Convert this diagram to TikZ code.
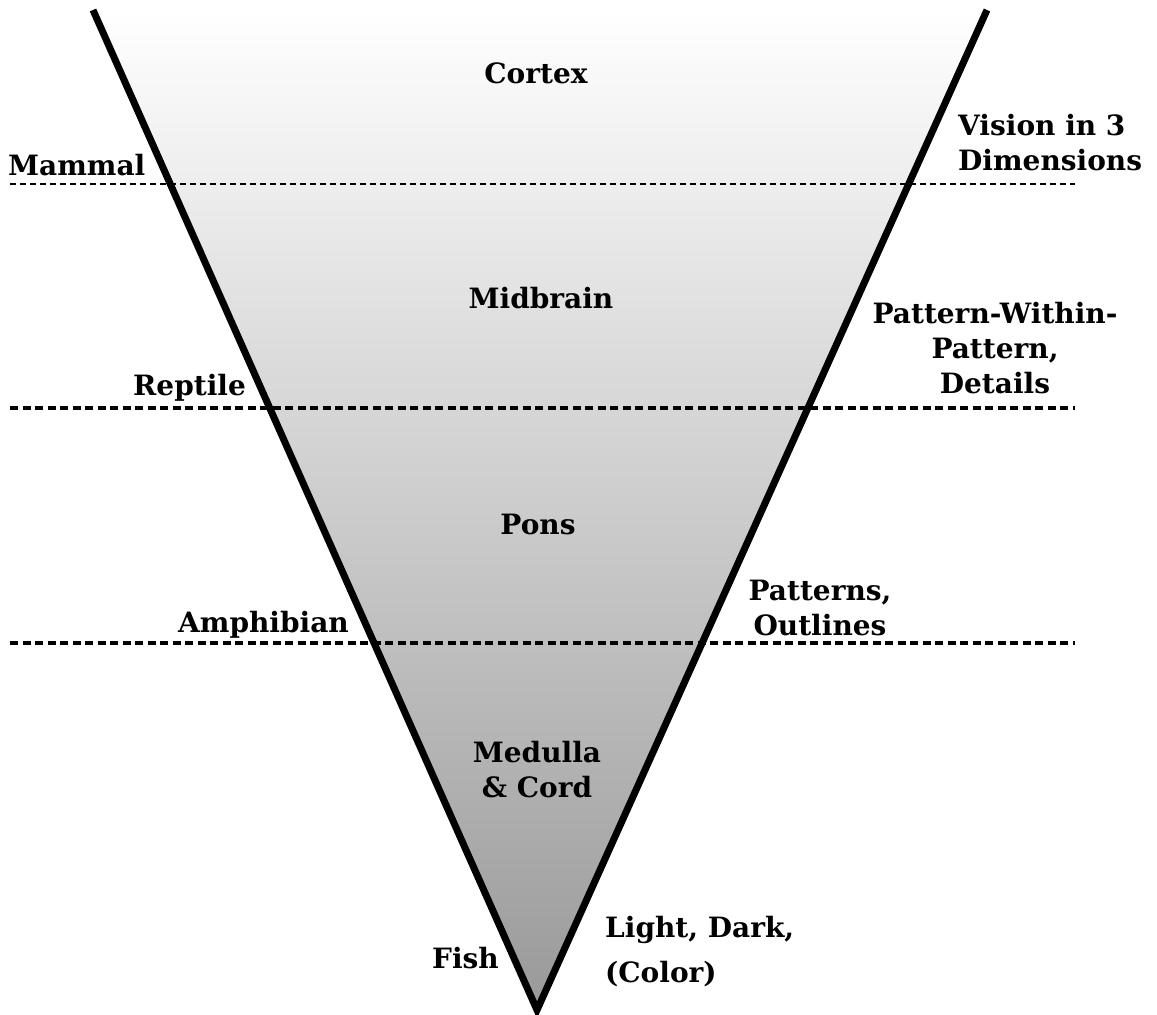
\documentclass[tikz,border=0pt]{standalone}
\usepackage{fontspec}
\setmainfont{DejaVu Serif}
\usepackage{tikz}
\usetikzlibrary{calc}

\tikzset{
    brainlabel/.style={inner sep=0pt, font=\bfseries\fontsize{28}{35}\selectfont},
    levelline/.style={line width=3.5pt, dash pattern=on 8pt off 4.5pt},
    toplevelline/.style={line width=1.6pt, dash pattern=on 6pt off 4pt},
}

\begin{document}
\begin{tikzpicture}[x=1pt, y=-1pt]
    \useasboundingbox (0,0) rectangle (1157,1015);

    % Corners of the funnel
    \coordinate (TL) at (93,10);
    \coordinate (TR) at (987,10);
    \coordinate (Apex) at (537,1010);

    % Shaded funnel body
    \shade[top color=white, bottom color=black!40] (TL) -- (TR) -- (Apex) -- cycle;

    % Evolutionary level lines
    \coordinate (mammalL) at (10,184);
    \coordinate (mammalR) at (1075,184);
    \coordinate (reptileL) at (10,408);
    \coordinate (reptileR) at (1075,408);
    \coordinate (amphibL) at (10,643);
    \coordinate (amphibR) at (1075,643);
    \draw[toplevelline] (mammalL) -- (mammalR);
    \draw[levelline] (reptileL) -- (reptileR);
    \draw[levelline] (amphibL) -- (amphibR);

    % Funnel sides
    \draw[line width=7pt, miter limit=20] (TL) -- (Apex) -- (TR);

    % Brain regions
    \node[brainlabel] (cortex) at (536,73) {Cortex};
    \node[brainlabel] (midbrain) at (541,298) {Midbrain};
    \node[brainlabel] (pons) at (538,524) {Pons};
    \node[brainlabel, anchor=north, align=center] (medulla) at (537,741) {Medulla\\\& Cord};

    % Animal classes
    \node[brainlabel, anchor=base west] (mammal) at (8,175) {Mammal};
    \node[brainlabel, anchor=base west] (reptile) at (133,395) {Reptile};
    \node[brainlabel, anchor=base west] (amphibian) at (178,632) {Amphibian};
    \node[brainlabel, anchor=base west] (fish) at (432,968) {Fish};

    % Visual abilities
    \node[brainlabel, anchor=north west, align=left] (vision) at (958,114) {Vision in 3\\Dimensions};
    \node[brainlabel, anchor=north, align=center] (details) at (995,302) {Pattern-Within-\\Pattern,\\Details};
    \node[brainlabel, anchor=north, align=center] (outlines) at (820,580) {Patterns,\\Outlines};
    \node[brainlabel, anchor=north west, align=left] (light) at (605,916) {Light, Dark,\\[10pt](Color)};
\end{tikzpicture}
\end{document}
